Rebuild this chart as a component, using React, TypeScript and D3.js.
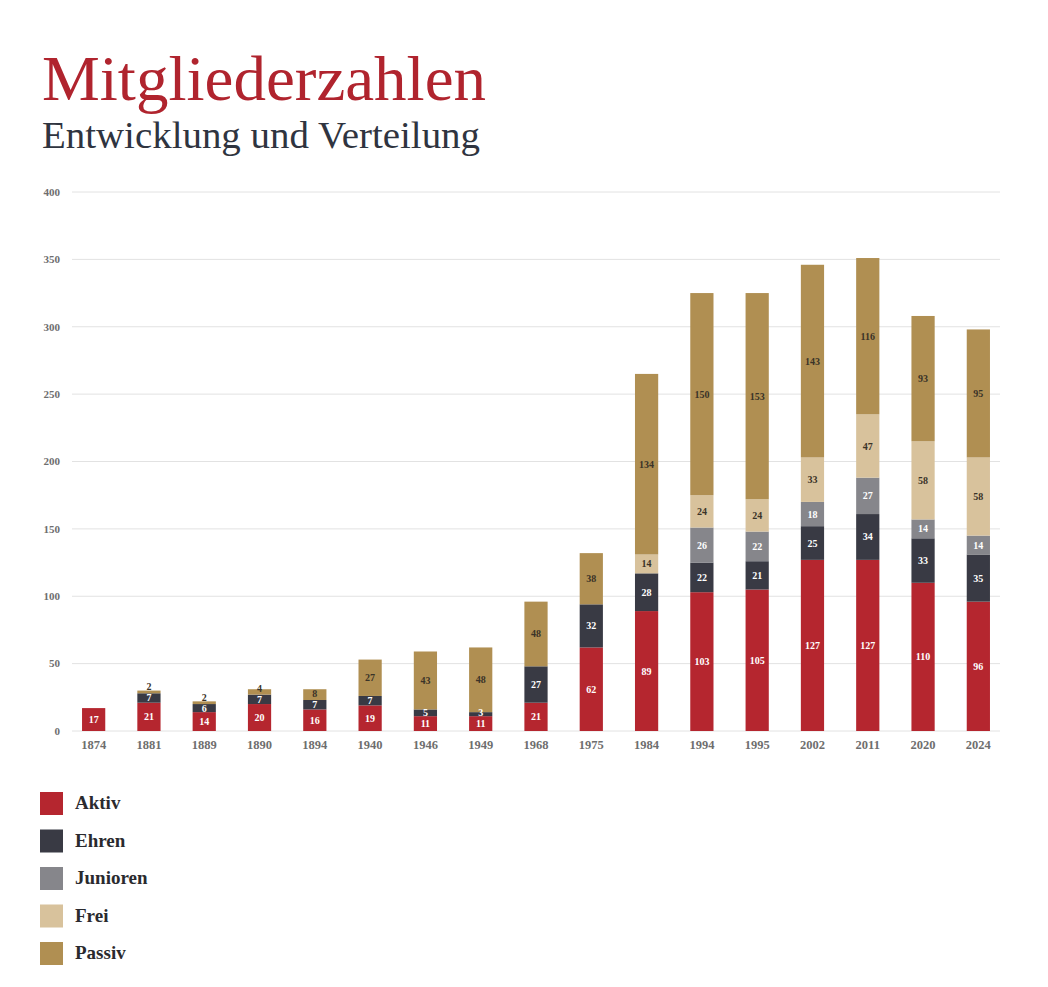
import React from 'react';
import * as d3 from 'd3';

// Survey years and member counts per category
const years = ['1874', '1881', '1889', '1890', '1894', '1940', '1946', '1949', '1968', '1975', '1984', '1994', '1995', '2002', '2011', '2020', '2024'];
const aktiv = [17, 21, 14, 20, 16, 19, 11, 11, 21, 62, 89, 103, 105, 127, 127, 110, 96];
const ehren = [0, 7, 6, 7, 7, 7, 5, 3, 27, 32, 28, 22, 21, 25, 34, 33, 35];
const junioren = [0, 0, 0, 0, 0, 0, 0, 0, 0, 0, 0, 26, 22, 18, 27, 14, 14];
const frei = [0, 0, 0, 0, 0, 0, 0, 0, 0, 0, 14, 24, 24, 33, 47, 58, 58];
const passiv = [0, 2, 2, 4, 8, 27, 43, 48, 48, 38, 134, 150, 153, 143, 116, 93, 95];

const categories = ['Aktiv', 'Ehren', 'Junioren', 'Frei', 'Passiv'];
const colors = ['#b5262f', '#393a44', '#86868b', '#d8c29c', '#b08f52'];
const labelColors = ['#ffffff', '#ffffff', '#ffffff', '#3a3328', '#3a3328'];
const yTicks = [0, 50, 100, 150, 200, 250, 300, 350, 400];

const serif = '"Liberation Serif", "DejaVu Serif", serif';

export default function App() {
  const width = 1048;
  const height = 987;

  const rows = years.map((year, i) => ({
    year,
    Aktiv: aktiv[i],
    Ehren: ehren[i],
    Junioren: junioren[i],
    Frei: frei[i],
    Passiv: passiv[i],
  }));

  const series = d3.stack<any>().keys(categories)(rows);

  const x = d3.scaleBand<string>()
    .domain(years)
    .range([66, 1006])
    .paddingInner(0.58)
    .paddingOuter(0.29);

  const y = d3.scaleLinear()
    .domain([0, 400])
    .range([731, 192]);

  // Label positions: centred in each segment, pushed up when a thin segment
  // would put its number on top of the one below it.
  const minGap = 11;
  const labels: { key: string; x: number; y: number; v: number; si: number }[] = [];
  years.forEach((yr, i) => {
    let prev = Infinity;
    series.forEach((s, si) => {
      const d = s[i];
      const v = d[1] - d[0];
      if (v <= 0) return;
      let ly = y((d[0] + d[1]) / 2);
      if (ly > prev - minGap) ly = prev - minGap;
      prev = ly;
      labels.push({ key: `${yr}-${si}`, x: (x(yr) ?? 0) + x.bandwidth() / 2, y: ly, v, si });
    });
  });

  return (
    <svg width={width} height={height} style={{ position: 'absolute', left: 0, top: 0, background: '#fff' }}>
      {/* Heading */}
      <text x={42} y={100} fontFamily={serif} fontSize={64} fill="#b0242e" textLength={444} lengthAdjust="spacingAndGlyphs">
        Mitgliederzahlen
      </text>
      <text x={42} y={148} fontFamily={serif} fontSize={37} fill="#2f3440" textLength={438} lengthAdjust="spacingAndGlyphs">
        Entwicklung und Verteilung
      </text>

      {/* Grid and y-axis labels */}
      <g>
        {yTicks.map(t => (
          <g key={t}>
            <line x1={72} x2={1000} y1={y(t)} y2={y(t)} stroke="#e2e2e2" strokeWidth={1} />
            <text x={60} y={y(t)} dy="0.35em" textAnchor="end" fontFamily={serif} fontWeight="bold" fontSize={11} fill="#6e6e6e">
              {t}
            </text>
          </g>
        ))}
      </g>

      {/* Stacked bars */}
      {series.map((s, si) => (
        <g key={s.key} fill={colors[si]}>
          {s.map((d, i) => {
            const v = d[1] - d[0];
            if (v <= 0) return null;
            return (
              <rect key={i} x={x(years[i])} y={y(d[1])} width={x.bandwidth()} height={y(d[0]) - y(d[1])} />
            );
          })}
        </g>
      ))}

      {/* Segment value labels */}
      <g fontFamily={serif} fontWeight="bold" fontSize={10} textAnchor="middle">
        {labels.map(l => (
          <text key={l.key} x={l.x} y={l.y} dy="0.35em" fill={labelColors[l.si]}>
            {l.v}
          </text>
        ))}
      </g>

      {/* Year labels */}
      <g fontFamily={serif} fontWeight="bold" fontSize={12.5} fill="#6e6e6e" textAnchor="middle">
        {years.map(yr => (
          <text key={yr} x={(x(yr) ?? 0) + x.bandwidth() / 2} y={749}>
            {yr}
          </text>
        ))}
      </g>

      {/* Legend */}
      <g>
        {categories.map((c, i) => (
          <g key={c} transform={`translate(40,${792 + i * 37.5})`}>
            <rect width={23} height={23} fill={colors[i]} />
            <text x={35} y={17} fontFamily={serif} fontWeight="bold" fontSize={19} fill="#2a2a2e">
              {c}
            </text>
          </g>
        ))}
      </g>
    </svg>
  );
}
